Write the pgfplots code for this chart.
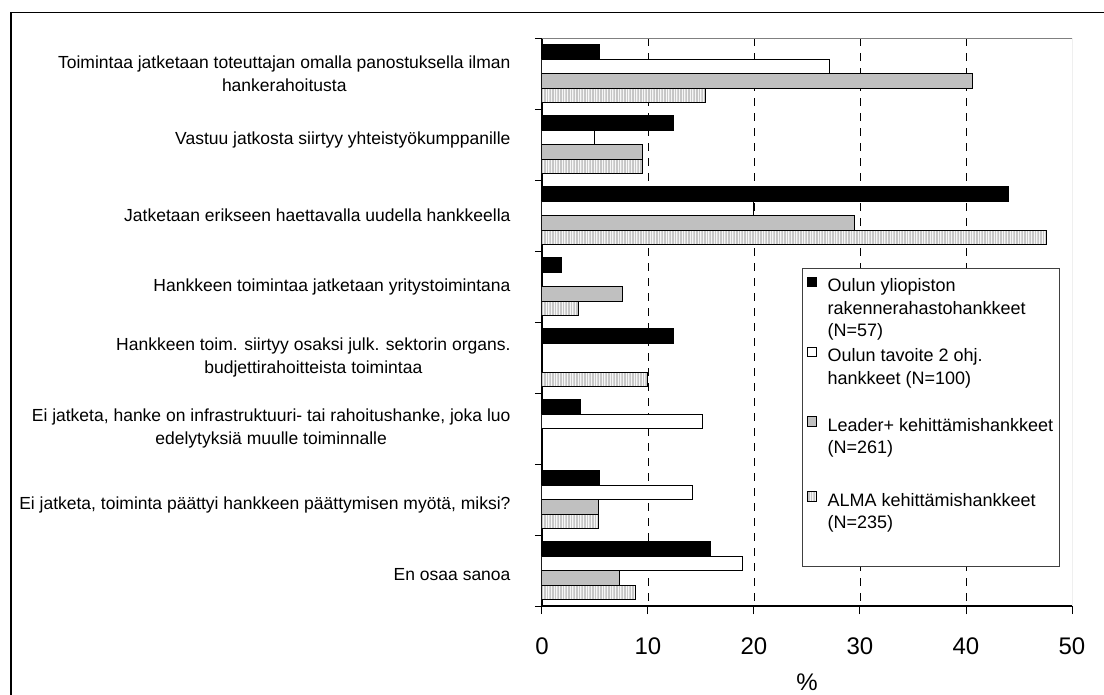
\documentclass[border=0pt]{standalone}
\usepackage{pgfplots}
\pgfplotsset{compat=1.18}
\usepackage{fontspec}
\setmainfont{Liberation Sans}
\usetikzlibrary{patterns.meta}
\definecolor{barGray}{HTML}{C0C0C0}
\definecolor{dotFill}{HTML}{F6F6F6}
\begin{document}
\begin{tikzpicture}[x=1pt,y=1pt]
\useasboundingbox (0,0) rectangle (1104,695);
\draw[line width=1.5pt] (11,-5) -- (11,682.5) -- (1110,682.5);
\begin{axis}[
  at={(542pt,89pt)}, anchor=south west,
  scale only axis, width=530pt, height=568pt,
  xbar=0pt, bar width=14.5pt,
  xmin=0, xmax=50, ymin=-0.5, ymax=7.5, y dir=reverse,
  axis x line*=bottom, axis y line*=left,
  axis line style={line width=1.2pt},
  tick align=outside, major tick length=8pt, minor tick length=7pt,
  tick style={black, line width=1pt},
  xtick={0,10,...,50},
  /pgf/number format/assume math mode=true,
  xticklabel style={font=\fontsize{24}{24}\selectfont, yshift=-20pt},
  xlabel={\%}, xlabel style={font=\fontsize{24}{24}\selectfont, yshift=4pt},
  extra x ticks={10,20,30,40}, extra x tick labels={},
  extra x tick style={grid=major, major grid style={black, line width=0.8pt, dash pattern=on 8pt off 7pt}},
  ytick={0,...,7},
  every major y tick/.append style={draw=none},
  minor ytick={-0.5,0.5,...,7.5},
  yticklabels={
    {Toimintaa jatketaan toteuttajan omalla panostuksella ilman\\hankerahoitusta},
    {\smash{Vastuu jatkosta siirtyy yhteistyökumppanille}},
    {Jatketaan erikseen haettavalla uudella hankkeella},
    {Hankkeen toimintaa jatketaan yritystoimintana},
    {Hankkeen toim. siirtyy osaksi julk. sektorin organs.\\budjettirahoitteista toimintaa},
    {Ei jatketa, hanke on infrastruktuuri- tai rahoitushanke, joka luo\\edelytyksiä muulle toiminnalle},
    {\smash{\raisebox{-10pt}{Ei jatketa, toiminta päättyi hankkeen päättymisen myötä, miksi?}}},
    {\smash{\raisebox{-10pt}{En osaa sanoa}}}},
  yticklabel style={align=center, font=\fontsize{17.5}{23}\selectfont, xshift=-20pt},
  reverse legend,
  legend style={at={(0.4906,0.595)}, anchor=north west, draw=black!75, line width=0.6pt,
    inner xsep=4.5pt, inner ysep=8pt, row sep=6pt, column sep=8.5pt,
    cells={anchor=north west, align=left, inner sep=0pt},
    font=\fontsize{18}{22.5}\selectfont},
  legend image code/.code={\draw[#1, line width=0.8pt] (0pt,-10.3pt) rectangle (9.5pt,-0.8pt);},
]
\addplot[draw=black, line width=1pt, fill=dotFill, postaction={pattern={Lines[angle=90,distance=1.6pt,line width=0.45pt]}, pattern color=gray!45}] coordinates {(15.4,0) (9.5,1) (47.6,2) (3.4,3) (10.0,4) (5.3,6) (8.8,7)};
\addlegendentry{ALMA kehittämishankkeet\\(N=235)\\[4pt]\strut}
\addplot[draw=black, line width=1pt, fill=barGray] coordinates {(40.6,0) (9.5,1) (29.5,2) (7.6,3) (5.3,6) (7.3,7)};
\addlegendentry{Leader+ kehittämishankkeet\\(N=261)\\[5pt]\strut}
\addplot[draw=black, line width=1pt, fill=white] coordinates {(27.1,0) (5.0,1) (20.0,2) (15.1,5) (14.2,6) (18.9,7)};
\addlegendentry{Oulun tavoite 2 ohj.\\hankkeet (N=100)\\\strut}
\addplot[draw=black, line width=1pt, fill=black] coordinates {(5.4,0) (12.4,1) (44.0,2) (1.8,3) (12.4,4) (3.6,5) (5.4,6) (15.9,7)};
\addlegendentry{Oulun yliopiston\\rakennerahastohankkeet\\(N=57)\strut}
\draw[gray, line width=0.8pt] (axis cs:0,-0.5) -- (axis cs:50,-0.5) -- (axis cs:50,7.5);
\end{axis}
\end{tikzpicture}
\end{document}
